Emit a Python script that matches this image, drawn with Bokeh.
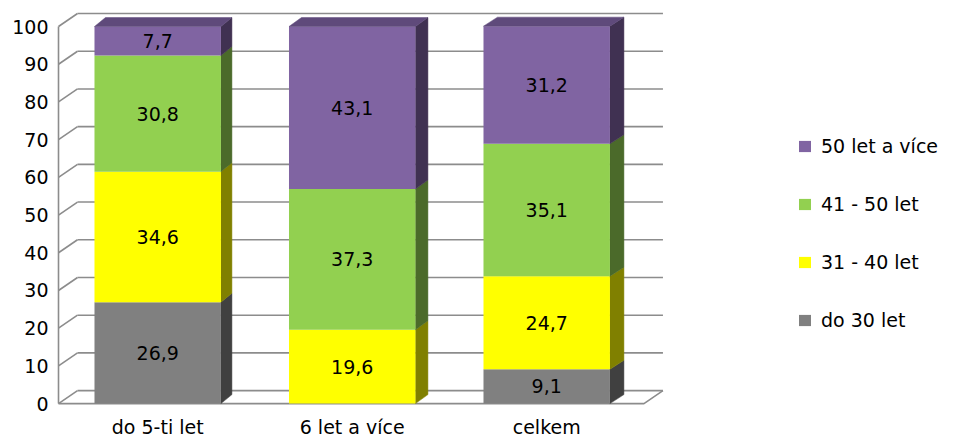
from bokeh.plotting import figure
from bokeh.models import Range1d, FixedTicker, Legend, LegendItem, ColumnDataSource
from bokeh.core.properties import value
from bokeh.embed import file_html
from bokeh.resources import INLINE

# ---------------- data ----------------
categories = ["do 5-ti let", "6 let a více", "celkem"]
series_names = ["do 30 let", "31 - 40 let", "41 - 50 let", "50 let a více"]
do_30_let = [26.9, 0.0, 9.1]
let_31_40 = [34.6, 19.6, 24.7]
let_41_50 = [30.8, 37.3, 35.1]
let_50_plus = [7.7, 43.1, 31.2]
y_ticks = [0, 10, 20, 30, 40, 50, 60, 70, 80, 90, 100]

series_values = [do_30_let, let_31_40, let_41_50, let_50_plus]

# ---------------- styles ----------------
front_colors = ["#808080", "#FFFF00", "#92D050", "#8064A2"]
side_colors = ["#404040", "#808000", "#4B6A2A", "#403152"]
top_color = "#5F4A7B"
grid_color = "#8C8C8C"
FONT = "DejaVu Sans"
FSIZE = "19px"

FRAME_W, FRAME_H = 900, 405
X_START = -0.5306
X_END = X_START + FRAME_W / 194.5
Y_START, Y_END = -0.5, 106.9
XPX = FRAME_W / (X_END - X_START)   # px per x unit
YPX = FRAME_H / (Y_END - Y_START)   # px per y unit

BAR_W = 0.65
WALL_L, WALL_R = -0.51, 2.50
WALL_DX, WALL_DY = 19 / XPX, 13 / YPX
BAR_DY = 9 / YPX

p = figure(frame_width=FRAME_W, frame_height=FRAME_H,
           x_range=Range1d(X_START, X_END), y_range=Range1d(Y_START, Y_END),
           output_backend="svg", toolbar_location=None,
           min_border_left=54, min_border_right=0, min_border_top=0, min_border_bottom=28)
p.outline_line_color = None
p.xgrid.visible = False
p.ygrid.visible = False
p.background_fill_color = "white"
p.border_fill_color = "white"

# ---------------- walls / gridlines ----------------
gx, gy = [], []
for t in y_ticks:
    gx.append([WALL_L, WALL_L + WALL_DX])
    gy.append([t, t + WALL_DY])
    gx.append([WALL_L + WALL_DX, WALL_R + WALL_DX])
    gy.append([t + WALL_DY, t + WALL_DY])
gx.append([WALL_L, WALL_L])
gy.append([y_ticks[0], y_ticks[-1]])
gx.append([WALL_L, WALL_R, WALL_R + WALL_DX])
gy.append([y_ticks[0], y_ticks[0], y_ticks[0] + WALL_DY])
p.multi_line(gx, gy, line_color=grid_color, line_width=1.6)

# ---------------- 3D stacked bars ----------------
legend_renderers = {}
n_cat = len(categories)
bottoms = [0.0] * n_cat
lab_x, lab_y, lab_t = [], [], []
for si, vals in enumerate(series_values):
    left, right, bot, top = [], [], [], []
    side_xs, side_ys = [], []
    for ci in range(n_cat):
        v = vals[ci]
        b = bottoms[ci]
        t = b + v
        bottoms[ci] = t
        if v <= 0:
            continue
        dx = (11 + 1.5 * ci) / XPX
        l, r = ci - BAR_W / 2, ci + BAR_W / 2
        left.append(l); right.append(r); bot.append(b); top.append(t)
        side_xs.append([r, r + dx, r + dx, r])
        side_ys.append([b, b + BAR_DY, t + BAR_DY, t])
        lab_x.append(ci); lab_y.append(b + v / 2)
        lab_t.append(f"{v:.1f}".replace(".", ","))
    p.patches(side_xs, side_ys, fill_color=side_colors[si], line_color=side_colors[si], line_width=0.5)
    src = ColumnDataSource(dict(left=left, right=right, bottom=bot, top=top))
    r_front = p.quad(left="left", right="right", bottom="bottom", top="top", source=src,
                     fill_color=front_colors[si], line_color=None)
    legend_renderers[si] = r_front

top_xs, top_ys = [], []
for ci in range(n_cat):
    dx = (11 + 1.5 * ci) / XPX
    l, r = ci - BAR_W / 2, ci + BAR_W / 2
    t = bottoms[ci]
    top_xs.append([l, l + dx, r + dx, r])
    top_ys.append([t, t + BAR_DY, t + BAR_DY, t])
p.patches(top_xs, top_ys, fill_color=top_color, line_color=top_color, line_width=0.5)

p.text(x=lab_x, y=lab_y, text=lab_t, text_align="center", text_baseline="middle",
       text_font=value(FONT), text_font_size=value(FSIZE), text_color="#000000")

# ---------------- axes ----------------
p.yaxis.ticker = FixedTicker(ticks=y_ticks)
p.yaxis.axis_line_color = None
p.yaxis.major_tick_line_color = None
p.yaxis.minor_tick_line_color = None
p.yaxis.major_label_standoff = 0
p.yaxis.major_label_text_font = FONT
p.yaxis.major_label_text_font_size = FSIZE
p.yaxis.major_label_text_color = "#000000"

p.xaxis.ticker = FixedTicker(ticks=list(range(n_cat)))
p.xaxis.major_label_overrides = {i: c for i, c in enumerate(categories)}
p.xaxis.axis_line_color = None
p.xaxis.major_tick_line_color = None
p.xaxis.minor_tick_line_color = None
p.xaxis.major_label_standoff = 4
p.xaxis.major_label_text_font = FONT
p.xaxis.major_label_text_font_size = FSIZE
p.xaxis.major_label_text_color = "#000000"

# ---------------- legend ----------------
items = [LegendItem(label=series_names[si], renderers=[legend_renderers[si]])
         for si in reversed(range(len(series_names)))]
legend = Legend(items=items, location=(743, 74), orientation="vertical",
                glyph_width=15, glyph_height=14, label_standoff=9, spacing=36,
                padding=0, margin=0, border_line_color=None, background_fill_alpha=0,
                label_text_font=FONT, label_text_font_size=FSIZE, label_text_color="#000000")
p.add_layout(legend, "center")

open("out.html", "w").write(file_html(p, INLINE))
